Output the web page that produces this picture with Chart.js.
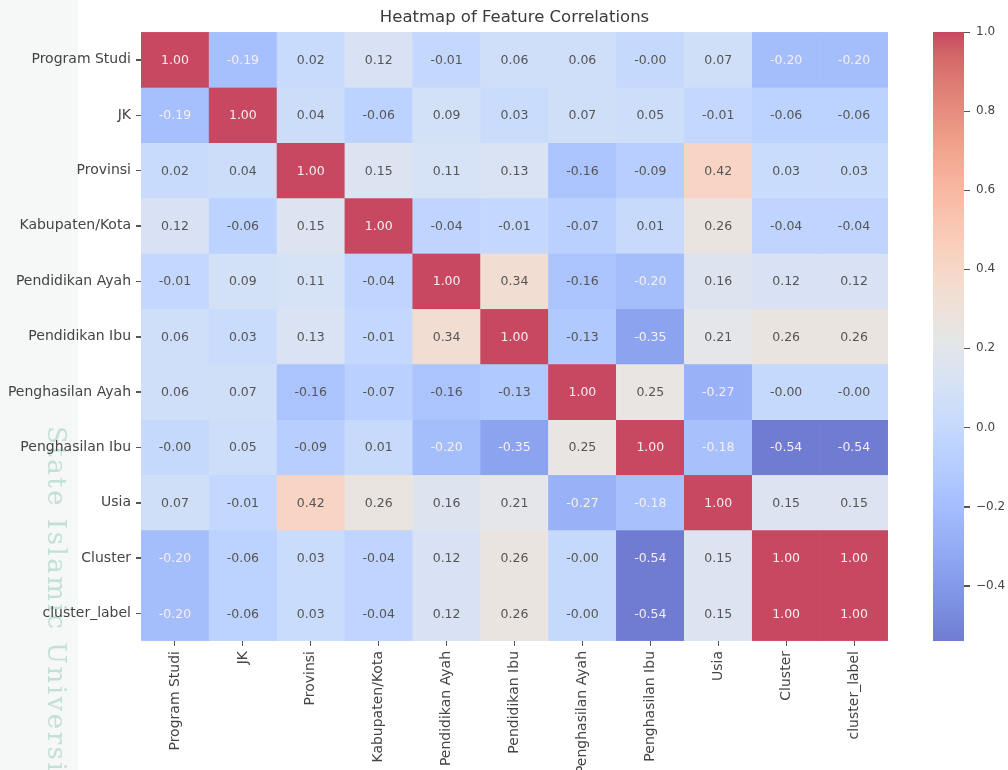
<!DOCTYPE html>
<html>
<head>
<meta charset="utf-8">
<script src="https://cdn.jsdelivr.net/npm/chart.js@4.4.1/dist/chart.umd.min.js"></script>
<style>
  html, body { margin: 0; padding: 0; background: #fff; }
  #wrap { position: relative; width: 1008px; height: 770px; overflow: hidden; }
  #heat { position: absolute; left: 0; top: 0; }
  #cbar { position: absolute; left: 900px; top: 0; }
</style>
</head>
<body>
<div id="wrap">
  <canvas id="heat" width="1008" height="770"></canvas>
  <canvas id="cbar" width="108" height="770"></canvas>
</div>
<script>
// --- DATA ---
const features = ['Program Studi', 'JK', 'Provinsi', 'Kabupaten/Kota', 'Pendidikan Ayah', 'Pendidikan Ibu',
    'Penghasilan Ayah', 'Penghasilan Ibu', 'Usia', 'Cluster', 'cluster_label'];

// one row of the correlation matrix per feature (-0.001 stands for the "-0.00" cells)
const rowProgramStudi   = [1.00, -0.19, 0.02, 0.12, -0.01, 0.06, 0.06, -0.001, 0.07, -0.20, -0.20];
const rowJK             = [-0.19, 1.00, 0.04, -0.06, 0.09, 0.03, 0.07, 0.05, -0.01, -0.06, -0.06];
const rowProvinsi       = [0.02, 0.04, 1.00, 0.15, 0.11, 0.13, -0.16, -0.09, 0.42, 0.03, 0.03];
const rowKabupaten      = [0.12, -0.06, 0.15, 1.00, -0.04, -0.01, -0.07, 0.01, 0.26, -0.04, -0.04];
const rowPendAyah       = [-0.01, 0.09, 0.11, -0.04, 1.00, 0.34, -0.16, -0.20, 0.16, 0.12, 0.12];
const rowPendIbu        = [0.06, 0.03, 0.13, -0.01, 0.34, 1.00, -0.13, -0.35, 0.21, 0.26, 0.26];
const rowPengAyah       = [0.06, 0.07, -0.16, -0.07, -0.16, -0.13, 1.00, 0.25, -0.27, -0.001, -0.001];
const rowPengIbu        = [-0.001, 0.05, -0.09, 0.01, -0.20, -0.35, 0.25, 1.00, -0.18, -0.54, -0.54];
const rowUsia           = [0.07, -0.01, 0.42, 0.26, 0.16, 0.21, -0.27, -0.18, 1.00, 0.15, 0.15];
const rowCluster        = [-0.20, -0.06, 0.03, -0.04, 0.12, 0.26, -0.001, -0.54, 0.15, 1.00, 1.00];
const rowClusterLabel   = [-0.20, -0.06, 0.03, -0.04, 0.12, 0.26, -0.001, -0.54, 0.15, 1.00, 1.00];

const matrix = [rowProgramStudi, rowJK, rowProvinsi, rowKabupaten, rowPendAyah, rowPendIbu,
    rowPengAyah, rowPengIbu, rowUsia, rowCluster, rowClusterLabel];

const colorbarTicks = [-0.4, -0.2, 0.0, 0.2, 0.4, 0.6, 0.8, 1.0];
const vmin = -0.54;
const vmax = 1.0;

// --- COLOURS (matplotlib coolwarm, washed out like the picture) ---
const coolwarm = [
    [0.0, 59, 76, 192], [0.03125, 68, 90, 204], [0.0625, 77, 104, 215], [0.09375, 87, 117, 225],
    [0.125, 98, 130, 234], [0.15625, 108, 142, 241], [0.1875, 119, 154, 247], [0.21875, 130, 165, 251],
    [0.25, 141, 176, 254], [0.28125, 152, 185, 255], [0.3125, 163, 194, 255], [0.34375, 174, 201, 253],
    [0.375, 184, 208, 249], [0.40625, 194, 213, 244], [0.4375, 204, 217, 238], [0.46875, 213, 219, 230],
    [0.5, 221, 221, 221], [0.53125, 229, 216, 209], [0.5625, 236, 211, 197], [0.59375, 241, 204, 185],
    [0.625, 245, 196, 173], [0.65625, 247, 187, 160], [0.6875, 247, 177, 148], [0.71875, 247, 166, 135],
    [0.75, 244, 154, 123], [0.78125, 241, 141, 111], [0.8125, 236, 127, 99], [0.84375, 229, 112, 88],
    [0.875, 222, 96, 77], [0.90625, 213, 80, 66], [0.9375, 203, 62, 56], [0.96875, 192, 40, 47],
    [1.0, 180, 4, 38]
];
const wash = 0.73;

function cmap(t) {
    t = Math.max(0, Math.min(1, t));
    for (let k = 1; k < coolwarm.length; k++) {
        const a = coolwarm[k - 1], b = coolwarm[k];
        if (t <= b[0]) {
            const f = (t - a[0]) / (b[0] - a[0]);
            return [1, 2, 3].map(c => a[c] + (b[c] - a[c]) * f);
        }
    }
    return coolwarm[coolwarm.length - 1].slice(1);
}

function washed(rgb) {
    const c = rgb.map(v => Math.round(255 - (255 - v) * wash));
    return `rgb(${c[0]},${c[1]},${c[2]})`;
}

function cellColor(v) {
    return washed(cmap((v - vmin) / (vmax - vmin)));
}

function luminance(rgb) {
    const lin = rgb.map(v => {
        v /= 255;
        return v <= 0.03928 ? v / 12.92 : Math.pow((v + 0.055) / 1.055, 2.4);
    });
    return 0.2126 * lin[0] + 0.7152 * lin[1] + 0.0722 * lin[2];
}

const fontFamily = "'DejaVu Sans', sans-serif";
const labelColor = '#444444';
const tickColor = '#555555';

// --- PLUGINS ---
const watermark = {
    id: 'watermark',
    beforeDraw(chart) {
        const ctx = chart.ctx;
        ctx.save();
        ctx.fillStyle = '#f6f7f7';
        ctx.fillRect(0, 0, 78, chart.height);
        ctx.translate(42, 426);
        ctx.rotate(Math.PI / 2);
        ctx.font = "26px 'DejaVu Serif', serif";
        if ('letterSpacing' in ctx) ctx.letterSpacing = '2.5px';
        ctx.fillStyle = 'rgba(130, 195, 172, 0.45)';
        ctx.textBaseline = 'bottom';
        ctx.fillText('State Islamic University', 0, 0);
        ctx.restore();
    }
};

const annotations = {
    id: 'annotations',
    afterDatasetsDraw(chart) {
        const ctx = chart.ctx;
        ctx.save();
        ctx.font = `12.5px ${fontFamily}`;
        ctx.textAlign = 'center';
        ctx.textBaseline = 'middle';
        chart.data.datasets.forEach((ds, i) => {
            chart.getDatasetMeta(i).data.forEach((bar, j) => {
                const v = matrix[i][j];
                const rgb = cmap((v - vmin) / (vmax - vmin));
                ctx.fillStyle = luminance(rgb) > 0.42 ? '#555555' : '#f6eef0';
                ctx.fillText(v.toFixed(2), bar.x, (bar.y + bar.base) / 2 + 1);
            });
        });
        ctx.restore();
    }
};

// small dash at every tick of the vertical axis (matplotlib style)
const yTickMarks = {
    id: 'yTickMarks',
    afterDraw(chart, args, opts) {
        const s = chart.scales.y;
        const ctx = chart.ctx;
        ctx.save();
        ctx.fillStyle = tickColor;
        s.ticks.forEach(t => {
            const y = Math.round(s.getPixelForValue(t.value));
            const x0 = s.position === 'left' ? s.right - opts.len : s.left;
            ctx.fillRect(x0, y, opts.len, 1);
        });
        ctx.restore();
    }
};

// --- HEATMAP ---
new Chart(document.getElementById('heat'), {
    type: 'bar',
    data: {
        labels: features,
        datasets: matrix.map((row, i) => ({
            label: features[i],
            data: row.map(() => [i - 0.5, i + 0.5]),
            backgroundColor: row.map(cellColor),
            borderColor: row.map(cellColor),
            borderWidth: 0.5,
            borderSkipped: false,
            grouped: false,
            barPercentage: 1,
            categoryPercentage: 1
        }))
    },
    options: {
        responsive: false,
        animation: false,
        devicePixelRatio: 1,
        layout: { padding: { left: 0, right: 120, top: 0, bottom: 0 } },
        plugins: {
            legend: { display: false },
            tooltip: { enabled: false },
            yTickMarks: { len: 5 },
            title: {
                display: true,
                text: 'Heatmap of Feature Correlations',
                fullSize: false,
                color: '#3a3a3a',
                font: { family: fontFamily, size: 16.5, weight: 'normal', lineHeight: 1 },
                padding: { top: 9, bottom: 6.5 }
            }
        },
        scales: {
            x: {
                type: 'category',
                grid: { drawOnChartArea: false, offset: false, tickLength: 5, color: tickColor },
                border: { display: false },
                ticks: {
                    autoSkip: false, minRotation: 90, maxRotation: 90, padding: 5,
                    color: labelColor, font: { family: fontFamily, size: 14 }
                },
                afterFit: s => { s.height = 129; }
            },
            y: {
                type: 'linear',
                reverse: true,
                min: -0.5,
                max: 10.5,
                afterBuildTicks: s => { s.ticks = features.map((_, i) => ({ value: i })); },
                grid: { drawOnChartArea: false, tickLength: 5, color: tickColor },
                border: { display: false },
                ticks: {
                    autoSkip: false, padding: 5,
                    callback: v => features[v],
                    color: labelColor, font: { family: fontFamily, size: 14 }
                },
                afterFit: s => { s.width = 141; }
            }
        }
    },
    plugins: [watermark, annotations, yTickMarks]
});

// --- COLORBAR ---
new Chart(document.getElementById('cbar'), {
    type: 'bar',
    data: {
        labels: ['colorbar'],
        datasets: [{
            data: [[vmin, vmax]],
            backgroundColor: (c) => {
                const chart = c.chart;
                if (!chart.chartArea) return null;
                const y = chart.scales.y;
                const g = chart.ctx.createLinearGradient(0, y.getPixelForValue(vmin), 0, y.getPixelForValue(vmax));
                coolwarm.forEach(p => g.addColorStop(p[0], washed(p.slice(1))));
                return g;
            },
            borderWidth: 0,
            barPercentage: 1,
            categoryPercentage: 1
        }]
    },
    options: {
        responsive: false,
        animation: false,
        devicePixelRatio: 1,
        layout: { padding: { left: 33, right: 0, top: 32, bottom: 129 } },
        plugins: { legend: { display: false }, tooltip: { enabled: false }, yTickMarks: { len: 6 } },
        scales: {
            x: { display: false },
            y: {
                position: 'right',
                min: vmin,
                max: vmax,
                afterBuildTicks: s => { s.ticks = colorbarTicks.map(v => ({ value: v })); },
                grid: { drawOnChartArea: false, tickLength: 6, color: tickColor },
                border: { display: false },
                ticks: {
                    padding: 6,
                    callback: v => (v < 0 ? '\u2212' : '') + Math.abs(v).toFixed(1),
                    color: labelColor, font: { family: fontFamily, size: 12 }
                },
                afterFit: s => { s.width = 44; }
            }
        }
    },
    plugins: [yTickMarks]
});
</script>
</body>
</html>
